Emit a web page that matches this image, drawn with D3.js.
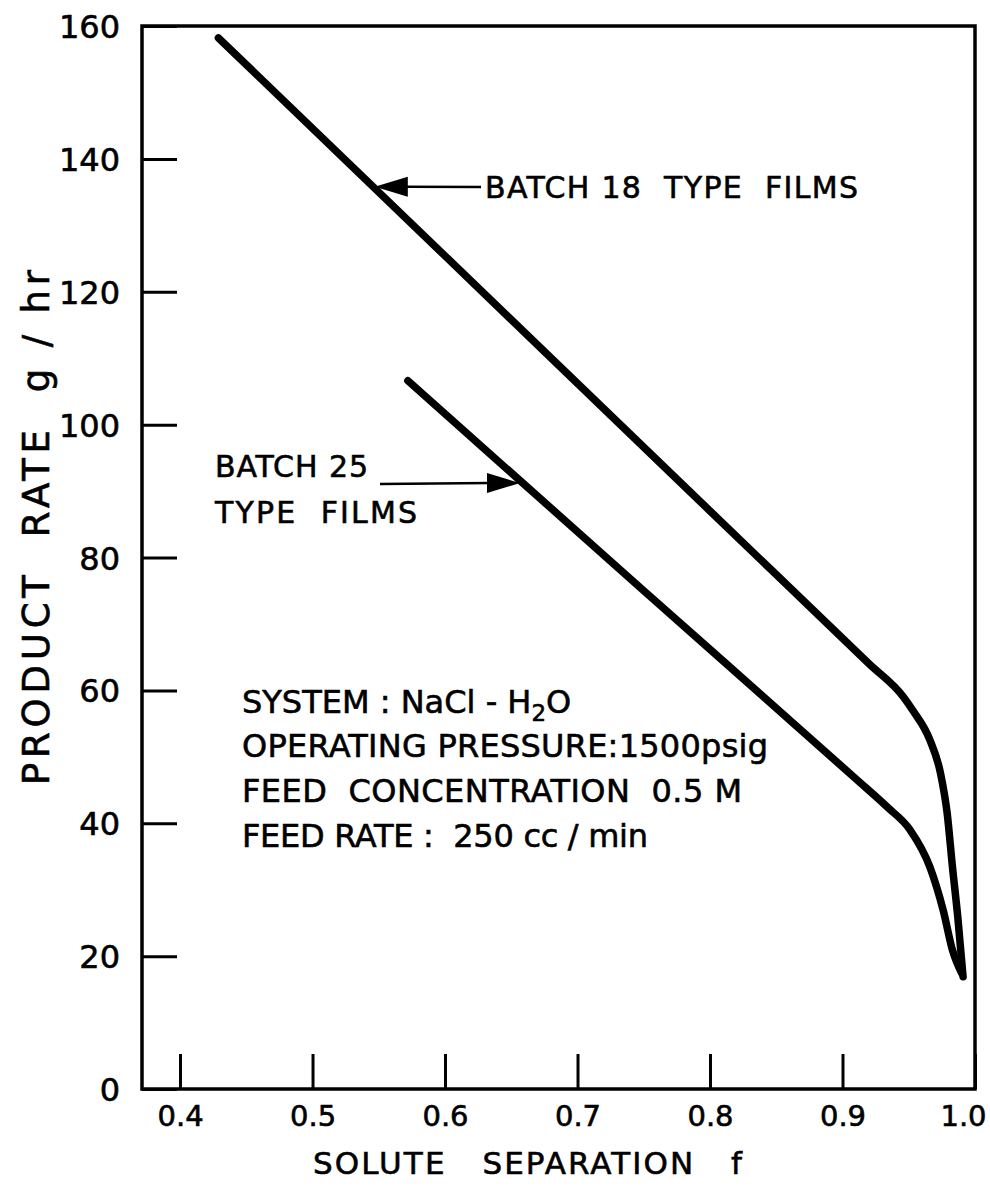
<!DOCTYPE html>
<html>
<head>
<meta charset="utf-8">
<script src="https://cdn.jsdelivr.net/npm/d3@7"></script>
<style>
  body { margin: 0; background: #fff; }
  svg text { font-family: "DejaVu Sans", sans-serif; fill: #000; stroke: #000; stroke-width: 0.6px; }
</style>
</head>
<body>
<svg id="chart"></svg>
<script>
// Data
const fBatch18 = [0.429, 0.60, 0.80, 0.92, 0.946, 0.953, 0.966, 0.974, 0.979, 0.983, 0.987, 0.991];
const rateBatch18 = [158.2, 125.4, 87.0, 64.0, 59.0, 57.0, 52.5, 47.5, 41.5, 33.4, 25.9, 16.9];
const fBatch25 = [0.572, 0.75, 0.91, 0.934, 0.951, 0.966, 0.976, 0.983, 0.990];
const rateBatch25 = [106.6, 75.0, 46.7, 42.4, 39.0, 33.4, 26.9, 20.9, 17.4];

const xTicks = [0.4, 0.5, 0.6, 0.7, 0.8, 0.9, 1.0];
const yTicks = [0, 20, 40, 60, 80, 100, 120, 140, 160];

// Chart dimensions
const width = 990;
const height = 1186;
const plotLeft = 142, plotRight = 975, plotTop = 26, plotBottom = 1089;

const svg = d3.select("#chart")
  .attr("width", width)
  .attr("height", height);

// Scales
const x = d3.scaleLinear().domain([0.3713, 1.0]).range([plotLeft, plotRight]);
const y = d3.scaleLinear().domain([0, 160]).range([plotBottom, plotTop]);

// Axes with inward ticks
const xAxis = d3.axisBottom(x)
  .tickValues(xTicks)
  .tickFormat(d3.format(".1f"))
  .tickSizeInner(-35)
  .tickSizeOuter(0)
  .tickPadding(16);

const yAxis = d3.axisLeft(y)
  .tickValues(yTicks)
  .tickSizeInner(-35)
  .tickSizeOuter(0)
  .tickPadding(22);

const gx = svg.append("g")
  .attr("transform", `translate(0, ${plotBottom})`)
  .call(xAxis);

const gy = svg.append("g")
  .attr("transform", `translate(${plotLeft}, 0)`)
  .call(yAxis);

[gx, gy].forEach(g => {
  g.select(".domain").remove();
  g.selectAll(".tick line").attr("stroke", "#000").attr("stroke-width", 3);
  g.selectAll(".tick text").attr("font-family", "DejaVu Sans, sans-serif");
});
gx.selectAll(".tick text")
  .attr("font-size", 29)
  .attr("dx", d => d === 1.0 ? -12 : 0);
gy.selectAll(".tick text").attr("font-size", 32).attr("dy", "0.36em");

// Frame
svg.append("rect")
  .attr("x", plotLeft)
  .attr("y", plotTop)
  .attr("width", plotRight - plotLeft)
  .attr("height", plotBottom - plotTop)
  .attr("fill", "none")
  .attr("stroke", "#000")
  .attr("stroke-width", 3.5);

// Curves
const line = d3.line()
  .x(d => x(d[0]))
  .y(d => y(d[1]))
  .curve(d3.curveMonotoneX);

const series = [
  d3.zip(fBatch18, rateBatch18),
  d3.zip(fBatch25, rateBatch25)
];

svg.selectAll(".curve")
  .data(series)
  .enter()
  .append("path")
  .attr("class", "curve")
  .attr("d", line)
  .attr("fill", "none")
  .attr("stroke", "#000")
  .attr("stroke-width", 7.5)
  .attr("stroke-linecap", "round")
  .attr("stroke-linejoin", "round");

// Arrows pointing at the curves
function arrow(x1, y1, x2, y2) {
  const dir = Math.sign(x2 - x1);
  svg.append("line")
    .attr("x1", x1).attr("y1", y1)
    .attr("x2", x2 - dir * 30).attr("y2", y2)
    .attr("stroke", "#000")
    .attr("stroke-width", 2.5);
  svg.append("path")
    .attr("d", `M${x2},${y2} L${x2 - dir * 33},${y2 - 10} L${x2 - dir * 33},${y2 + 10} Z`)
    .attr("fill", "#000");
}

arrow(481, 187, x(0.547), y(135.8));
arrow(380, 484, x(0.6566), y(91.2));

// Labels
function label(txt, tx, ty, size, len) {
  const t = svg.append("text")
    .attr("x", tx)
    .attr("y", ty)
    .attr("font-size", size)
    .style("white-space", "pre")
    .text(txt);
  if (len) t.attr("textLength", len).attr("lengthAdjust", "spacing");
  return t;
}

label("BATCH 18  TYPE  FILMS", 485, 198, 30, 373);
label("BATCH 25", 215, 477, 30, 153);
label("TYPE  FILMS", 215, 523, 30, 202);

// System conditions
const sys = svg.append("text")
  .attr("x", 242)
  .attr("y", 713)
  .attr("font-size", 32)
  .style("white-space", "pre");
sys.append("tspan").text("SYSTEM : NaCl - H");
sys.append("tspan").attr("font-size", 23).attr("dy", 8).text("2");
sys.append("tspan").attr("dy", -8).text("O");

label("OPERATING PRESSURE:1500psig", 242, 757, 32, 526);
label("FEED  CONCENTRATION  0.5 M", 242, 802, 32, 500);
label("FEED RATE :  250 cc / min", 242, 847, 32, 406);

// Axis titles
label("SOLUTE   SEPARATION   f", 313, 1174, 31, 429);

svg.append("text")
  .attr("transform", "translate(49, 785) rotate(-90)")
  .attr("font-size", 37)
  .attr("textLength", 515)
  .attr("lengthAdjust", "spacing")
  .style("white-space", "pre")
  .text("PRODUCT  RATE  g / hr");
</script>
</body>
</html>
